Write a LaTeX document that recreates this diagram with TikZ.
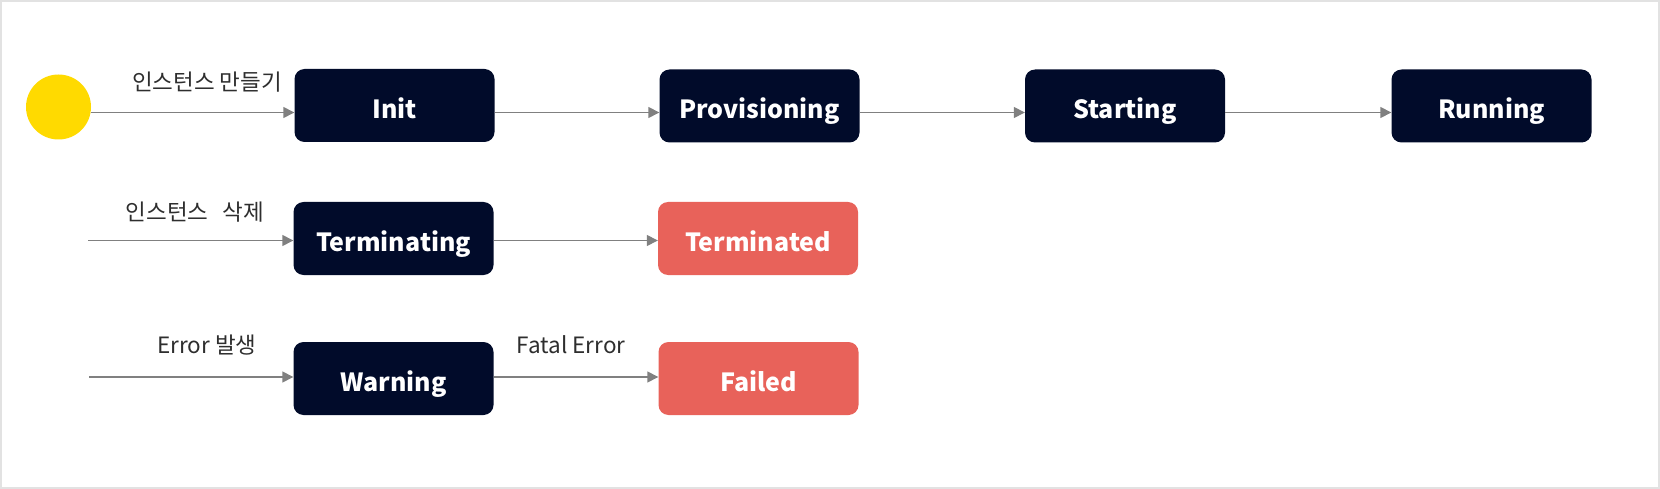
\documentclass[tikz,border=0pt]{standalone}
\usepackage{fontspec}
\setmainfont{Noto Sans CJK KR}
\usetikzlibrary{arrows.meta}
\definecolor{navy}{HTML}{010B2A}
\definecolor{failred}{HTML}{E8625A}
\definecolor{startyellow}{HTML}{FFDA00}
\definecolor{arrowgray}{HTML}{808080}
\definecolor{labelgray}{HTML}{2E2E2E}
\definecolor{framegray}{HTML}{E2E2E2}
\tikzset{
  state/.style={rectangle, rounded corners=10pt, minimum width=200pt, minimum height=73pt,
    fill=navy, text=white, font=\fontsize{25}{28}\selectfont\bfseries, inner sep=0pt,
    text height=26pt, text depth=0pt},
  endstate/.style={state, fill=failred},
  trans/.style={draw=arrowgray, line width=1.5pt, -{Triangle[length=11pt,width=11pt]}},
  lbl/.style={text=labelgray, font=\fontsize{22.5}{25}\selectfont, inner sep=0pt, anchor=base}
}
\begin{document}
\begin{tikzpicture}[x=1pt,y=-1pt]
\useasboundingbox (0,0) rectangle (1660,489);
\draw[framegray, line width=2pt] (1,1) rectangle (1659,488);
% start
\node[circle, fill=startyellow, minimum size=65pt, inner sep=0pt] (start) at (58.5,107) {};
% row 1
\node[state] (init) at (394.5,105.5) {Init};
\node[state] (prov) at (759.5,106) {Provisioning};
\node[state] (start2) at (1125,106) {Starting};
\node[state] (run) at (1491.5,106) {Running};
% row 2
\node[state] (term) at (393.5,238.5) {Terminating};
\node[endstate] (termd) at (758,238.5) {Terminated};
% row 3
\node[state] (warn) at (393.5,378.5) {Warning};
\node[endstate] (fail) at (758.5,378.5) {Failed};
\coordinate (in2) at (88,240.5);
\coordinate (in3) at (89,377);
% arrows row 1
\draw[trans] (start.east |- 0,112.5) -- (init.west |- 0,112.5);
\draw[trans] (init.east |- 0,112.5) -- (prov.west |- 0,112.5);
\draw[trans] (prov.east |- 0,112.5) -- (start2.west |- 0,112.5);
\draw[trans] (start2.east |- 0,112.5) -- (run.west |- 0,112.5);
% row 2
\draw[trans] (in2) -- (term.west |- in2);
\draw[trans] (term.east |- in2) -- (termd.west |- in2);
% row 3
\draw[trans] (in3) -- (warn.west |- in3);
\draw[trans] (warn.east |- in3) -- (fail.west |- in3);
% labels
\node[lbl] (l1) at (207,91) {인스턴스 만들기};
\node[lbl] (l2) at (195,220.5) {인스턴스\hspace{0.4em} 삭제};
\node[lbl] (l3) at (207,353.5) {Error 발생};
\node[lbl] (l4) at (571,353) {Fatal Error};
\end{tikzpicture}
\end{document}
